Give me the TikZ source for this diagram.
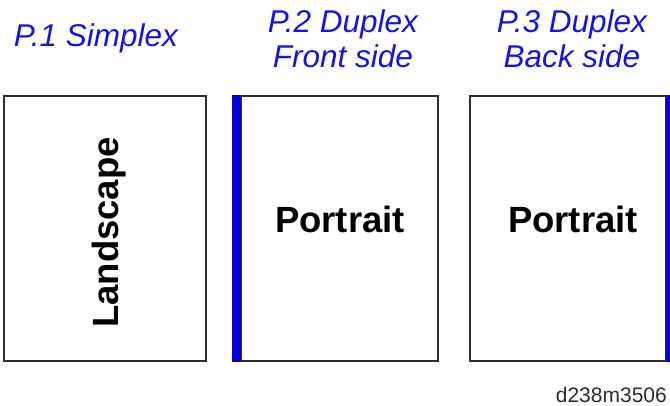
\documentclass[tikz,border=0pt]{standalone}
\usepackage{fontspec}
\setmainfont{Liberation Sans}
\usetikzlibrary{positioning}
\definecolor{pageblue}{RGB}{20,20,230}
\definecolor{bindblue}{RGB}{0,0,215}
\definecolor{edgegray}{RGB}{45,45,45}
\tikzset{
  page/.style={
    draw=edgegray,
    line width=2pt,
    rectangle,
    inner sep=0pt,
    minimum height=265pt,
  },
  bindbar/.style={
    fill=bindblue,
    rectangle,
    inner sep=0pt,
    minimum width=9pt,
    minimum height=267pt,
  },
  caption/.style={
    text=pageblue,
    align=center,
    inner sep=0pt,
    font=\itshape\fontsize{31.5}{35}\selectfont,
  },
  orient/.style={
    inner sep=0pt,
    font=\bfseries\fontsize{36.5}{40}\selectfont,
  },
  figid/.style={text=edgegray, inner sep=0pt, font=\fontsize{21}{24}\selectfont},
}

\begin{document}
\begin{tikzpicture}[x=1pt, y=-1pt]
  \useasboundingbox (0,0) rectangle (670,406);

  % pages
  \node[page, minimum width=202pt] (simplex) at (105,228.5) {};
  \node[page, minimum width=197pt] (front) at (339.5,228.5) {};
  \node[page, minimum width=196pt] (back) at (568,228.5) {};

  % binding edges
  \node[bindbar, anchor=east] (frontbind) at ([xshift=1pt]front.west) {};
  \node[bindbar, anchor=west] (backbind) at ([xshift=-1pt]back.east) {};

  % captions (base = last line)
  \node[caption, anchor=base] (cap1) at (96,47) {P.1 Simplex};
  \node[caption, anchor=base] (cap2) at (343,68) {P.2 Duplex\\Front side};
  \node[caption, anchor=base] (cap3) at (572,68) {P.3 Duplex\\Back side};

  % orientation labels
  \node[orient, rotate=90, anchor=base] (land) at (118,232.5) {Landscape};
  \node[orient, anchor=base] (port2) at (340,233) {Portrait};
  \node[orient, anchor=base] (port3) at (573,233) {Portrait};

  \node[figid, anchor=base east] (fig) at (667,402) {d238m3506};
\end{tikzpicture}
\end{document}
